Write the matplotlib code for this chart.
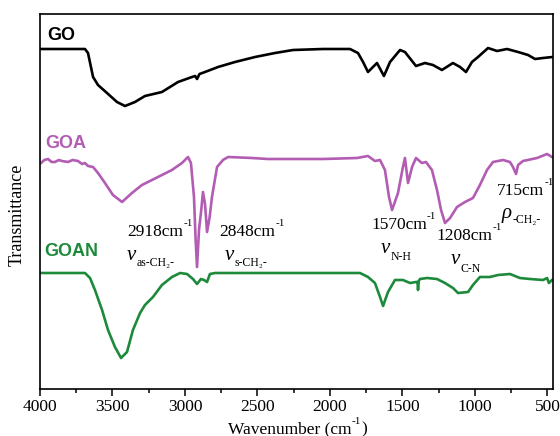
import matplotlib
matplotlib.use("Agg")
import matplotlib.pyplot as plt
from matplotlib.ticker import MultipleLocator

plt.rcParams['font.family'] = ['Liberation Serif', 'DejaVu Serif']

# ---- data (wavenumber cm-1, transmittance a.u.) ----
go_wn = [4000, 3690, 3669, 3634, 3600, 3538, 3469, 3414, 3345, 3276, 3159, 3048, 2952,
         2930, 2917, 2900, 2862, 2772, 2655, 2517, 2379, 2255, 2048, 1862, 1807, 1772,
         1738, 1676, 1628, 1586, 1517, 1483, 1407, 1345, 1290, 1228, 1152, 1103, 1062,
         1021, 979, 910, 848, 779, 703, 634, 586, 531, 465]
go_t = [340, 340, 336, 312, 304, 296, 287, 283, 287, 293, 297, 307, 312,
        313, 310, 315, 317, 322, 327, 332, 336, 339, 340, 340, 336, 327,
        317, 326, 313, 327, 339, 337, 323, 326, 324, 319, 326, 322, 317,
        327, 332, 341, 338, 340, 337, 334, 330, 331, 332]

goa_wn = [3993, 3970, 3945, 3920, 3897, 3870, 3848, 3807, 3775, 3738, 3710, 3690, 3669,
          3634, 3600, 3552, 3497, 3434, 3366, 3297, 3228, 3159, 3090, 3021, 2979, 2959,
          2938, 2927, 2917, 2903, 2890, 2876, 2862, 2848, 2830, 2814, 2779, 2738, 2703,
          2538, 2428, 2241, 2048, 1814, 1738, 1690, 1655, 1621, 1593, 1572, 1531, 1497,
          1483, 1462, 1434, 1407, 1366, 1338, 1297, 1262, 1234, 1207, 1172, 1124, 1069,
          1014, 966, 917, 876, 807, 759, 738, 717, 703, 669, 572, 503, 469]
goa_t = [226, 229, 230, 227, 227, 229, 228, 227, 229, 228, 225, 226, 223,
         222, 216, 206, 194, 187, 196, 204, 209, 214, 219, 226, 232, 226,
         192, 150, 122, 160, 176, 197, 185, 157, 172, 192, 222, 229, 232,
         231, 230, 230, 230, 231, 233, 228, 229, 219, 192, 179, 196, 222,
         231, 206, 222, 231, 226, 227, 219, 199, 179, 166, 171, 182, 187,
         191, 204, 219, 227, 229, 227, 222, 215, 224, 228, 231, 235, 232]

goan_wn = [4000, 3690, 3655, 3621, 3572, 3531, 3483, 3441, 3400, 3359, 3310, 3276, 3221,
           3159, 3090, 3034, 2986, 2945, 2917, 2890, 2869, 2848, 2828, 2793, 1862, 1793,
           1738, 1690, 1655, 1634, 1600, 1552, 1497, 1448, 1407, 1396, 1393, 1388, 1379,
           1331, 1262, 1207, 1152, 1117, 1048, 1014, 966, 897, 841, 759, 690, 621, 531,
           503, 490, 469]
goan_t = [116, 116, 111, 99, 79, 59, 42, 31, 37, 59, 76, 84, 92,
          104, 112, 116, 115, 110, 105, 110, 109, 107, 115, 116, 116, 116,
          112, 106, 92, 83, 97, 109, 109, 106, 107, 107, 99, 108, 110,
          111, 110, 106, 101, 96, 97, 104, 112, 112, 114, 115, 111, 110, 109,
          111, 106, 109]

series_names = ["GO", "GOA", "GOAN"]
colors = ["#000000", "#b35cb3", "#1d8a3b"]
xticks = [4000, 3500, 3000, 2500, 2000, 1500, 1000, 500]
peak_labels = ["2918cm", "2848cm", "1570cm", "1208cm", "715cm"]

W, H = 560, 436
fig = plt.figure(figsize=(W / 100, H / 100), dpi=100)
ax = fig.add_axes([40 / W, 1 - 389 / H, 513 / W, 375 / H])

for wn, t, c in zip([go_wn, goa_wn, goan_wn], [go_t, goa_t, goan_t], colors):
    ax.plot(wn, t, color=c, lw=1.9, solid_joinstyle='round')

ax.set_xlim(4000, 462)
ax.set_ylim(0, 375)
ax.set_xticks(xticks)
ax.xaxis.set_minor_locator(MultipleLocator(250))
ax.tick_params(axis='x', which='major', direction='out', length=5, width=1.1, labelsize=12.5, pad=2)
ax.tick_params(axis='x', which='minor', direction='out', length=3, width=1.1)
ax.set_yticks([])
for s in ax.spines.values():
    s.set_linewidth(1.2)

renderer = fig.canvas.get_renderer()


def ft(px, py, s, **kw):
    return fig.text(px / W, 1 - py / H, s, **kw)


def chain(px, py, parts):
    """parts: list of (text, fontsize, raise_px, extra kwargs)"""
    x = px
    for s, fs, dy, kw in parts:
        t = ft(x, py - dy, s, fontsize=fs, va='baseline', **kw)
        bb = t.get_window_extent(renderer)
        x = bb.x1 + 0.3


N = {}
# axis labels
chain(228, 433, [("Wavenumber (cm", 12.5, 0, N), ("-1", 8, 9, N), (")", 12.5, 0, N)])
fig.text(17 / W, 1 - 215 / H, "Transmittance", rotation=90, fontsize=13,
         ha='center', va='center')

# series labels
sans = ['Liberation Sans', 'DejaVu Sans']
ft(47, 35, series_names[0], family=sans, weight='bold', fontsize=13, color=colors[0], va='center')
ft(45, 144, series_names[1], family=sans, weight='bold', fontsize=13, color=colors[1], va='center')
ft(44, 252, series_names[2], family=sans, weight='bold', fontsize=13, color=colors[2], va='center')

# peak annotations
for (px, py), s in zip([(127, 236), (219, 236), (371, 229), (436, 240), (497, 195)], peak_labels):
    chain(px, py, [(s, 12.5, 0, N), ("-1", 8, 10, N)])

IT = dict(style='italic')
chain(127, 260, [("v", 15, 0, IT), ("as-CH\u2082-", 8.5, -6, N)])
chain(225, 260, [("v", 15, 0, IT), ("s-CH\u2082-", 8.5, -6, N)])
chain(381, 253, [("v", 15, 0, IT), ("N-H", 8.5, -7, N)])
chain(451, 264, [("v", 15, 0, IT), ("C-N", 8.5, -8, N)])
chain(502, 218, [("\u03c1", 15, 0, IT), ("-CH\u2082-", 8.5, -5, N)])

fig.savefig("out.png", dpi=100)
